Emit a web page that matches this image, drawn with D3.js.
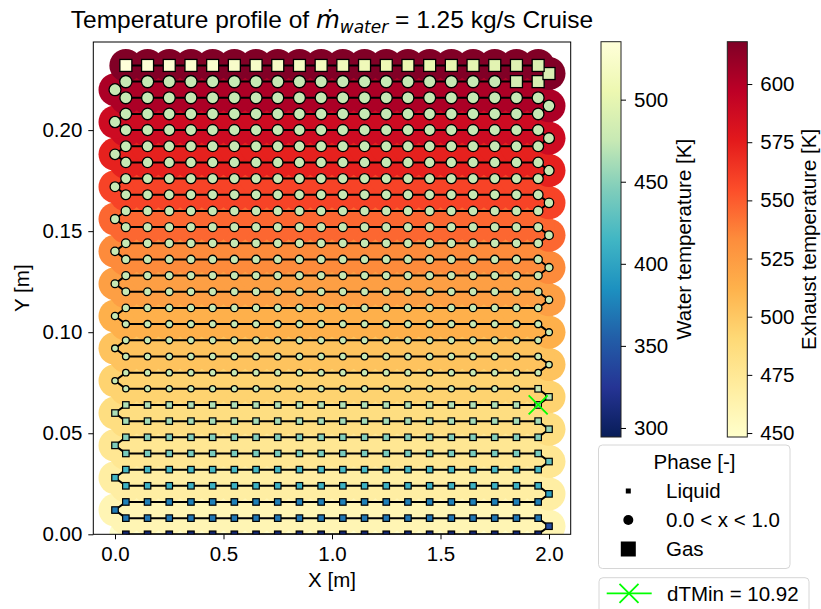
<!DOCTYPE html>
<html>
<head>
<meta charset="utf-8">
<script src="https://cdn.jsdelivr.net/npm/d3@7"></script>
<style>
  body { margin: 0; background: #fff; }
  text { font-family: Arial, "Liberation Sans", sans-serif; fill: #000; }
</style>
</head>
<body>
<div id="chart-area"></div>
<script>
// ---- data ----
// tube stations along a pass [m]
const xStations = [0.05, 0.15, 0.25, 0.35, 0.45, 0.55, 0.65, 0.75, 0.85, 0.95,
                   1.05, 1.15, 1.25, 1.35, 1.45, 1.55, 1.65, 1.75, 1.85, 1.95];
// height of each pass [m], pass 0 = water inlet
const passY = [0.000, 0.008, 0.016, 0.024, 0.032, 0.040, 0.048, 0.056, 0.064, 0.072,
               0.080, 0.088, 0.096, 0.104, 0.112, 0.120, 0.128, 0.136, 0.144, 0.152,
               0.160, 0.168, 0.176, 0.184, 0.192, 0.200, 0.208, 0.216, 0.224, 0.232];
// return bends between pass k and k+1
const bendX = [2.0, 0.0, 2.0, 0.0, 2.0, 0.0, 2.0, 0.0, 2.0, 0.0,
               2.0, 0.0, 2.0, 0.0, 2.0, 0.0, 2.0, 0.0, 2.0, 0.0,
               2.0, 0.0, 2.0, 0.0, 2.0, 0.0, 2.0, 0.0, 2.0];
const bendY = [0.004, 0.012, 0.020, 0.028, 0.036, 0.044, 0.052, 0.060, 0.068, 0.076,
               0.084, 0.092, 0.100, 0.108, 0.116, 0.124, 0.132, 0.140, 0.148, 0.156,
               0.164, 0.172, 0.180, 0.188, 0.196, 0.204, 0.212, 0.220, 0.228];

// water temperature per pass [K]
const passWaterT = [306, 369, 375, 411, 417, 441, 447, 461, 466, 475,
                    475, 475, 475, 475, 475, 475, 475, 475, 475, 475,
                    475, 475, 475, 475, 475, 475, 475, 475, 475, 475];
const row28GasT = [486, 489];
// last pass, flow order (right to left)
const row29WaterT = [492, 494, 497, 499, 502, 504, 506, 509, 511, 513,
                     516, 518, 520, 522, 524, 526, 528, 530, 532, 535];
const bendWaterT = [342, 372, 396, 414, 430, 444, 456, 464, 470, 475,
                    475, 475, 475, 475, 475, 475, 475, 475, 475, 475,
                    475, 475, 475, 475, 475, 475, 475, 475, 490];

// phase per node in flow order: L liquid, 2 two-phase, G gas
const rowPhase = [
  'LLLLLLLLLLLLLLLLLLLL', 'LLLLLLLLLLLLLLLLLLLL', 'LLLLLLLLLLLLLLLLLLLL',
  'LLLLLLLLLLLLLLLLLLLL', 'LLLLLLLLLLLLLLLLLLLL', 'LLLLLLLLLLLLLLLLLLLL',
  'LLLLLLLLLLLLLLLLLLLL', 'LLLLLLLLLLLLLLLLLLLL', 'LLLLLLLLLLLLLLLLLLLL',
  'L2222222222222222222', '22222222222222222222', '22222222222222222222',
  '22222222222222222222', '22222222222222222222', '22222222222222222222',
  '22222222222222222222', '22222222222222222222', '22222222222222222222',
  '22222222222222222222', '22222222222222222222', '22222222222222222222',
  '22222222222222222222', '22222222222222222222', '22222222222222222222',
  '22222222222222222222', '22222222222222222222', '22222222222222222222',
  '22222222222222222222', '222222222222222222GG', 'GGGGGGGGGGGGGGGGGGGG'
];
const bendPhase = 'LLLLLLLLL2222222222222222222G';

// vapour quality per pass (two-phase passes only)
const passQuality = [null, null, null, null, null, null, null, null, null, 0.00,
                     0.03, 0.07, 0.11, 0.15, 0.20, 0.25, 0.30, 0.35, 0.40, 0.46,
                     0.52, 0.58, 0.64, 0.70, 0.76, 0.82, 0.88, 0.94, 0.99, null];

// exhaust temperature seen by each pass [K]
const passExhaustT = [449, 460, 460, 468, 468, 476, 476, 485, 485, 494,
                      494, 503, 503, 513, 513, 523, 523, 534, 534, 546,
                      546, 559, 559, 573, 573, 588, 588, 603, 603, 618];

const dTMinPoint = {x: 1.95, y: 0.064, value: 10.92};

const xTicks = [0.0, 0.5, 1.0, 1.5, 2.0];
const yTicks = [0.00, 0.05, 0.10, 0.15, 0.20];
const waterRange = [294.5, 535.3];
const exhaustRange = [448.3, 618.2];
const waterTicks = [300, 350, 400, 450, 500];
const exhaustTicks = [450, 475, 500, 525, 550, 575, 600];

// ---- layout ----
const W = 821, H = 609;
const plot = {left: 93.3, right: 570.7, top: 42, bottom: 534.3};
const cbar = {top: 41.7, bottom: 437, width: 20, waterX: 601, exhaustX: 727.3};
const fs = 20.5;

const x = d3.scaleLinear().domain([-0.1, 2.1]).range([plot.left, plot.right]);
const y = d3.scaleLinear().domain([0, 0.2436]).range([plot.bottom, plot.top]);

const ylgnbu = d3.schemeYlGnBu[9].slice().reverse();
const ylorrd = d3.schemeYlOrRd[9];
const spread = (range, n) => d3.range(n).map(i => range[0] + i / (n - 1) * (range[1] - range[0]));
const waterColor = d3.scaleLinear().domain(spread(waterRange, 9)).range(ylgnbu).clamp(true);
const exhaustColor = d3.scaleLinear().domain(spread(exhaustRange, 9)).range(ylorrd).clamp(true);

// nodes in water flow order
const nodes = [];
passY.forEach((py, k) => {
  const xs = k % 2 === 0 ? xStations : xStations.slice().reverse();
  xs.forEach((px, j) => {
    let T = passWaterT[k];
    if (k === 28 && rowPhase[k][j] === 'G') T = row28GasT[j - 18];
    if (k === 29) T = row29WaterT[j];
    nodes.push({x: px, y: py, T: T, phase: rowPhase[k][j], q: passQuality[k], Tex: passExhaustT[k]});
  });
  if (k < bendX.length) {
    nodes.push({x: bendX[k], y: bendY[k], T: bendWaterT[k], phase: bendPhase[k],
                q: passQuality[k] === null ? 0 : passQuality[k], Tex: passExhaustT[k + 1]});
  }
});

const svg = d3.select('#chart-area').append('svg')
  .attr('width', W).attr('height', H);

svg.append('defs').append('clipPath').attr('id', 'clip')
  .append('rect')
  .attr('x', plot.left).attr('y', plot.top)
  .attr('width', plot.right - plot.left).attr('height', plot.bottom - plot.top);

const g = svg.append('g').attr('clip-path', 'url(#clip)');

// exhaust field
g.append('g').selectAll('circle')
  .data(nodes).enter()
  .append('circle')
  .attr('cx', d => x(d.x))
  .attr('cy', d => y(d.y))
  .attr('r', 16.5)
  .attr('fill', d => exhaustColor(d.Tex));

// tube path
g.append('path')
  .datum(nodes)
  .attr('d', d3.line().x(d => x(d.x)).y(d => y(d.y)))
  .attr('fill', 'none')
  .attr('stroke', '#000')
  .attr('stroke-width', 2);

// water markers
const liquidSide = 6.5, gasSide = 12;
g.append('g').selectAll('rect.liq')
  .data(nodes.filter(d => d.phase === 'L')).enter()
  .append('rect')
  .attr('x', d => x(d.x) - liquidSide / 2)
  .attr('y', d => y(d.y) - liquidSide / 2)
  .attr('width', liquidSide).attr('height', liquidSide)
  .attr('fill', d => waterColor(d.T))
  .attr('stroke', '#000').attr('stroke-width', 1.2);

g.append('g').selectAll('circle')
  .data(nodes.filter(d => d.phase === '2')).enter()
  .append('circle')
  .attr('cx', d => x(d.x))
  .attr('cy', d => y(d.y))
  .attr('r', d => (6.3 + 6 * d.q) / 2)
  .attr('fill', d => waterColor(d.T))
  .attr('stroke', '#000').attr('stroke-width', 1.3);

g.append('g').selectAll('rect.gas')
  .data(nodes.filter(d => d.phase === 'G')).enter()
  .append('rect')
  .attr('x', d => x(d.x) - gasSide / 2)
  .attr('y', d => y(d.y) - gasSide / 2)
  .attr('width', gasSide).attr('height', gasSide)
  .attr('fill', d => waterColor(d.T))
  .attr('stroke', '#000').attr('stroke-width', 1.3);

// dTMin marker
const cross = (sel, cx, cy, s) => {
  sel.append('path')
    .attr('d', `M${cx - s},${cy - s}L${cx + s},${cy + s}M${cx - s},${cy + s}L${cx + s},${cy - s}`)
    .attr('stroke', '#00ff00').attr('stroke-width', 1.8).attr('fill', 'none');
};
cross(g, x(dTMinPoint.x), y(dTMinPoint.y), 9.5);

// axes
const xAxis = svg.append('g')
  .attr('transform', `translate(0, ${plot.bottom})`)
  .call(d3.axisBottom(x).tickValues(xTicks).tickFormat(d3.format('.1f')).tickSize(5).tickPadding(7));
const yAxis = svg.append('g')
  .attr('transform', `translate(${plot.left}, 0)`)
  .call(d3.axisLeft(y).tickValues(yTicks).tickFormat(d3.format('.2f')).tickSize(5).tickPadding(6));
[xAxis, yAxis].forEach(a => {
  a.select('.domain').remove();
  a.selectAll('text').attr('font-size', fs).attr('font-family', 'Arial, "Liberation Sans", sans-serif').attr('fill', '#000');
  a.selectAll('line').attr('stroke', '#000').attr('stroke-width', 1);
});
svg.append('rect')
  .attr('x', plot.left).attr('y', plot.top)
  .attr('width', plot.right - plot.left).attr('height', plot.bottom - plot.top)
  .attr('fill', 'none').attr('stroke', '#000').attr('stroke-width', 1);

svg.append('text')
  .attr('x', (plot.left + plot.right) / 2).attr('y', 587)
  .attr('text-anchor', 'middle').attr('font-size', fs)
  .text('X [m]');
svg.append('text')
  .attr('transform', `translate(29, ${(plot.top + plot.bottom) / 2}) rotate(-90)`)
  .attr('text-anchor', 'middle').attr('font-size', fs)
  .text('Y [m]');

// title
const title = svg.append('text')
  .attr('x', (plot.left + plot.right) / 2).attr('y', 28)
  .attr('text-anchor', 'middle').attr('font-size', 24.5);
title.append('tspan').text('Temperature profile of ');
title.append('tspan').attr('font-family', '"DejaVu Sans"').attr('font-style', 'italic').text('ṁ');
title.append('tspan').attr('font-family', '"DejaVu Sans"').attr('font-style', 'italic')
  .attr('font-size', 17).attr('dy', 5).text('water');
title.append('tspan').attr('dy', -5).text(' = 1.25 kg/s Cruise');

// colorbars
const defs = svg.select('defs');
function colorbar(id, x0, range, colors, ticks, label, labelX) {
  const grad = defs.append('linearGradient').attr('id', id)
    .attr('x1', 0).attr('y1', 1).attr('x2', 0).attr('y2', 0);
  colors.forEach((c, i) => grad.append('stop')
    .attr('offset', i / (colors.length - 1)).attr('stop-color', c));
  svg.append('rect')
    .attr('x', x0).attr('y', cbar.top)
    .attr('width', cbar.width).attr('height', cbar.bottom - cbar.top)
    .attr('fill', `url(#${id})`)
    .attr('stroke', '#222').attr('stroke-width', 1);
  const s = d3.scaleLinear().domain(range).range([cbar.bottom, cbar.top]);
  const ax = svg.append('g')
    .attr('transform', `translate(${x0 + cbar.width}, 0)`)
    .call(d3.axisRight(s).tickValues(ticks).tickSize(5).tickPadding(8));
  ax.select('.domain').remove();
  ax.selectAll('text').attr('font-size', fs).attr('font-family', 'Arial, "Liberation Sans", sans-serif').attr('fill', '#000');
  ax.selectAll('line').attr('stroke', '#000');
  svg.append('text')
    .attr('transform', `translate(${labelX}, ${(cbar.top + cbar.bottom) / 2}) rotate(-90)`)
    .attr('text-anchor', 'middle').attr('font-size', fs)
    .text(label);
}
colorbar('gradWater', cbar.waterX, waterRange, ylgnbu, waterTicks, 'Water temperature [K]', 691);
colorbar('gradExhaust', cbar.exhaustX, exhaustRange, ylorrd, exhaustTicks, 'Exhaust temperature [K]', 816);

// phase legend
const leg = svg.append('g');
leg.append('rect')
  .attr('x', 598.5).attr('y', 445).attr('width', 191.5).attr('height', 123.5)
  .attr('rx', 4).attr('fill', '#fff').attr('stroke', '#d6d6d6').attr('stroke-width', 1);
leg.append('text').attr('x', 694.5).attr('y', 469).attr('text-anchor', 'middle')
  .attr('font-size', fs).text('Phase [-]');
const legendItems = ['Liquid', '0.0 < x < 1.0', 'Gas'];
const legendY = [491, 520, 549];
leg.append('rect').attr('x', 628.3 - 2.5).attr('y', legendY[0] - 2.5).attr('width', 5).attr('height', 5).attr('fill', '#000');
leg.append('circle').attr('cx', 628.3).attr('cy', legendY[1]).attr('r', 5).attr('fill', '#000');
leg.append('rect').attr('x', 628.3 - 7.5).attr('y', legendY[2] - 7.5).attr('width', 15).attr('height', 15).attr('fill', '#000');
legendItems.forEach((t, i) => {
  leg.append('text').attr('x', 666).attr('y', legendY[i] + 7.3).attr('font-size', fs).text(t);
});

// dTMin legend
const leg2 = svg.append('g');
leg2.append('rect')
  .attr('x', 599).attr('y', 577.7).attr('width', 210).attr('height', 50)
  .attr('rx', 4).attr('fill', '#fff').attr('stroke', '#d6d6d6').attr('stroke-width', 1);
leg2.append('line')
  .attr('x1', 606.7).attr('x2', 651.7).attr('y1', 593.3).attr('y2', 593.3)
  .attr('stroke', '#00ff00').attr('stroke-width', 1.8);
cross(leg2, 629, 593.3, 9.5);
leg2.append('text').attr('x', 667).attr('y', 600.6).attr('font-size', fs)
  .text('dTMin = ' + dTMinPoint.value.toFixed(2));
</script>
</body>
</html>
